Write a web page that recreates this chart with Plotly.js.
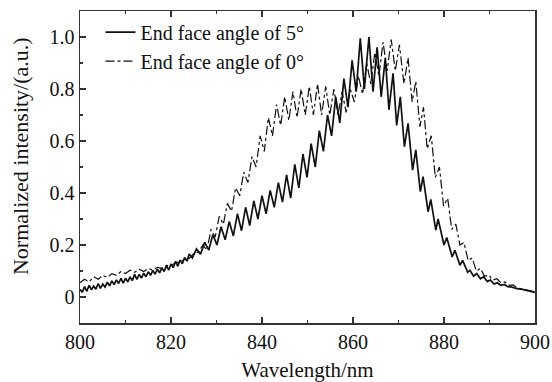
<!DOCTYPE html>
<html>
<head>
<meta charset="utf-8">
<script src="https://cdn.plot.ly/plotly-3.0.1.min.js"></script>
<style>html,body{margin:0;padding:0;background:#fff;}#chart{width:552px;height:382px;}</style>
</head>
<body>
<div id="chart"></div>
<script>
// End face angle of 5° (solid)
var wl5 = [800,800.5,801,801.5,802,802.5,803,803.5,804,804.5,805,805.5,806,806.5,807,807.5,808,808.5,809,809.5,
  810,810.5,811,811.5,812,812.5,813,813.5,814,814.5,815,815.5,816,816.5,817,817.5,818,818.5,819,819.5,
  820,820.5,821,821.5,822,822.5,823,823.5,824,
  824.7,825.6,826.5,827.4,828.3,829.2,830.1,831.0,831.9,832.8,833.7,834.6,835.5,836.4,837.3,838.2,839.1,840.0,
  840.9,841.8,842.7,843.6,844.5,845.4,846.3,847.2,848.1,849.0,849.9,850.8,851.7,852.6,853.5,854.4,855.3,856.2,
  857.1,858.0,858.9,859.8,860.7,861.6,862.5,863.5,864.4,865.3,866.2,867.1,867.9,868.8,869.6,870.4,871.3,872.1,
  873.1,873.8,874.8,875.4,876.5,877.1,878.2,878.7,880.0,880.6,881.8,882.4,883.5,884.1,885.2,885.7,886.5,887.2,
  888.0,888.7,889.5,890.2,891.0,891.7,892.5,893.3,894.0,895.0,896.0,897.0,898.0,899.0,900.0];
var int5 = [0.030,0.018,0.040,0.022,0.045,0.028,0.042,0.030,0.052,0.033,0.050,0.038,0.057,0.043,0.062,0.048,0.066,0.052,0.072,0.053,
  0.072,0.058,0.077,0.063,0.087,0.068,0.087,0.073,0.092,0.078,0.097,0.083,0.102,0.088,0.107,0.093,0.112,0.098,0.122,0.103,
  0.127,0.113,0.137,0.118,0.142,0.128,0.152,0.138,0.165,
  0.150,0.185,0.165,0.210,0.180,0.240,0.200,0.270,0.220,0.290,0.235,0.320,0.255,0.345,0.275,0.370,0.300,0.390,
  0.320,0.410,0.345,0.440,0.365,0.470,0.380,0.510,0.420,0.550,0.460,0.590,0.500,0.640,0.560,0.700,0.620,0.770,
  0.670,0.840,0.730,0.910,0.790,0.995,0.800,1.000,0.790,0.960,0.770,0.920,0.720,0.860,0.660,0.770,0.578,0.668,
  0.488,0.566,0.405,0.463,0.328,0.375,0.257,0.300,0.200,0.229,0.154,0.180,0.122,0.141,0.095,0.103,0.080,0.090,
  0.070,0.078,0.060,0.065,0.050,0.055,0.045,0.048,0.040,0.038,0.032,0.030,0.025,0.022,0.018];

// End face angle of 0° (dash-dot)
var wl0 = [800,801,802,803,804,805,806,807,808,809,810,811,812,813,814,815,816,817,818,819,820,821,822,823,824,825,826,
  827.0,827.9,828.8,829.7,830.6,831.5,832.4,833.3,834.2,835.1,836.0,836.9,837.8,838.7,839.6,840.5,841.4,842.3,
  843.2,844.1,845.0,845.9,846.8,847.7,848.6,849.5,850.4,851.3,852.2,853.1,854.0,854.9,855.8,856.7,857.6,858.5,
  859.4,860.3,861.2,862.1,863.0,863.9,864.8,865.7,866.6,867.5,868.4,869.3,870.2,871.2,872.1,873.0,873.8,874.7,
  875.5,876.3,877.2,878.1,879.0,879.9,880.8,881.7,882.6,883.5,884.4,885.3,886.2,887.1,888.0,888.9,889.8,890.7,
  891.6,892.5,893.4,894.3,895.2,896,897,898,899,900];
var int0 = [0.055,0.068,0.058,0.078,0.068,0.083,0.075,0.090,0.083,0.098,0.090,0.103,0.095,0.107,0.098,0.110,0.103,0.114,0.110,0.122,0.120,0.132,0.133,0.147,0.148,0.167,0.173,
  0.20,0.18,0.26,0.23,0.31,0.28,0.36,0.33,0.42,0.39,0.48,0.44,0.54,0.50,0.62,0.56,0.69,0.62,
  0.74,0.66,0.77,0.68,0.79,0.69,0.80,0.70,0.81,0.70,0.82,0.70,0.81,0.70,0.80,0.70,0.79,0.71,
  0.80,0.75,0.85,0.78,0.90,0.82,0.94,0.85,0.98,0.87,0.99,0.87,0.97,0.82,0.92,0.75,0.83,0.655,
  0.73,0.57,0.62,0.46,0.50,0.35,0.38,0.26,0.28,0.20,0.21,0.14,0.15,0.10,0.11,0.08,0.085,0.065,
  0.07,0.055,0.058,0.045,0.047,0.035,0.032,0.027,0.024,0.02];

var xTicks = [800, 820, 840, 860, 880, 900];
var yTicks = [0, 0.2, 0.4, 0.6, 0.8, 1.0];
var yTickText = ['0', '0.2', '0.4', '0.6', '0.8', '1.0'];
var names = ['End face angle of 5°', 'End face angle of 0°'];
var xTitle = 'Wavelength/nm';
var yTitle = 'Normalized intensity/(a.u.)';

var FONT = '"Liberation Serif", "Times New Roman", serif';
var traces = [
  {x: wl5, y: int5, name: names[0], type: 'scatter', mode: 'lines',
   line: {color: '#111', width: 1.7, dash: 'solid'}},
  {x: wl0, y: int0, name: names[1], type: 'scatter', mode: 'lines',
   line: {color: '#111', width: 1.2, dash: 'dashdot'}}
];

var layout = {
  width: 552, height: 382,
  margin: {l: 80, r: 17, t: 11, b: 59},
  paper_bgcolor: '#fff', plot_bgcolor: '#fff',
  font: {family: FONT, size: 20, color: '#111'},
  showlegend: true,
  legend: {x: 0.045, y: 0.995, xanchor: 'left', yanchor: 'top', bgcolor: 'rgba(0,0,0,0)',
           font: {family: FONT, size: 20, color: '#111'}, tracegroupgap: 0},
  xaxis: {range: [800, 900], tickvals: xTicks, ticks: 'inside', ticklen: 6, tickwidth: 1.3, tickcolor: '#333',
          minor: {dtick: 10, tick0: 800, ticks: 'inside', ticklen: 3, tickwidth: 1.3, tickcolor: '#333', showgrid: false},
          showline: true, linecolor: '#333', linewidth: 1.5, mirror: 'ticks', showgrid: false, zeroline: false,
          tickfont: {family: FONT, size: 20, color: '#111'},
          title: {text: xTitle, font: {family: FONT, size: 21, color: '#111'}, standoff: 15}},
  yaxis: {range: [-0.1, 1.1], tickvals: yTicks, ticktext: yTickText, ticks: 'inside', ticklen: 6, tickwidth: 1.3, tickcolor: '#333',
          minor: {dtick: 0.1, tick0: 0, ticks: 'inside', ticklen: 3, tickwidth: 1.3, tickcolor: '#333', showgrid: false},
          showline: true, linecolor: '#333', linewidth: 1.5, mirror: true, showgrid: false, zeroline: false,
          tickfont: {family: FONT, size: 20, color: '#111'}},
  yaxis2: {overlaying: 'y', side: 'right', range: [0, 1], tickvals: [0.2, 0.4, 0.6, 0.8], showticklabels: false,
           ticks: 'inside', ticklen: 6, tickwidth: 1.3, tickcolor: '#333',
           minor: {tickvals: [0.3, 0.5, 0.7, 0.9], ticks: 'inside', ticklen: 3, tickwidth: 1.3, tickcolor: '#333', showgrid: false},
           showline: false, showgrid: false, zeroline: false},
  annotations: [
    {text: yTitle, xref: 'paper', yref: 'paper', x: -0.132, y: 0.535, xanchor: 'center', yanchor: 'middle',
     textangle: -90, showarrow: false, font: {family: FONT, size: 22, color: '#111'}}
  ]
};

Plotly.newPlot('chart', traces, layout, {staticPlot: true, displayModeBar: false});
</script>
</body>
</html>
